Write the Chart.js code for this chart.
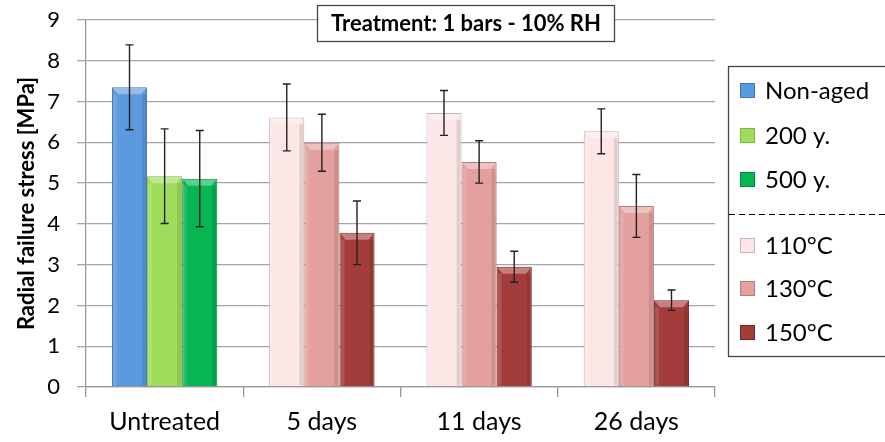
<!DOCTYPE html>
<html>
<head>
<meta charset="utf-8">
<script src="https://cdn.jsdelivr.net/npm/chart.js@4.4.0/dist/chart.umd.min.js"></script>
<style>
  html, body { margin: 0; padding: 0; background: #fff; }
</style>
</head>
<body>
<canvas id="c" width="885" height="442"></canvas>
<script>
// data
const categories = ['Untreated', '5 days', '11 days', '26 days'];
const seriesNames = ['Non-aged', '200 y.', '500 y.', '110°C', '130°C', '150°C'];
const nonAged = [7.35, null, null, null];
const aged200 = [5.17, null, null, null];
const aged500 = [5.11, null, null, null];
const t110 = [null, 6.61, 6.72, 6.27];
const t130 = [null, 5.99, 5.52, 4.44];
const t150 = [null, 3.78, 2.95, 2.13];
const nonAgedErr = [1.04, null, null, null];
const aged200Err = [1.16, null, null, null];
const aged500Err = [1.18, null, null, null];
const t110Err = [null, 0.82, 0.55, 0.55];
const t130Err = [null, 0.70, 0.52, 0.77];
const t150Err = [null, 0.78, 0.38, 0.25];
const yTicks = [0, 1, 2, 3, 4, 5, 6, 7, 8, 9];
const titleText = 'Treatment: 1 bars - 10% RH';

const fills = ['#5b9ade', '#a0dc5c', '#05b652', '#fde6e6', '#e3a09e', '#a33d3b'];
const edges = ['#3f76b8', '#7fb640', '#038a3d', '#c9b4b4', '#b87a78', '#7a2624'];

const values = [nonAged, aged200, aged500, t110, t130, t150];
const errors = [nonAgedErr, aged200Err, aged500Err, t110Err, t130Err, t150Err];

Chart.defaults.font.family = 'Lato, "Open Sans", sans-serif';
Chart.defaults.color = '#000';

// bevel look + error bars on top of the bars
const barExtras = {
  id: 'barExtras',
  afterDatasetsDraw(chart) {
    const ctx = chart.ctx;
    const y = chart.scales.y;
    chart.data.datasets.forEach((ds, i) => {
      const meta = chart.getDatasetMeta(i);
      meta.data.forEach((bar, j) => {
        if (ds.data[j] == null) return;
        const p = bar.getProps(['x', 'y', 'base', 'width'], true);
        const l = p.x - p.width / 2, r = p.x + p.width / 2;
        ctx.save();
        ctx.fillStyle = 'rgba(255,255,255,0.35)';
        ctx.beginPath();
        ctx.moveTo(l + 1, p.y + 1);
        ctx.lineTo(r - 1, p.y + 1);
        ctx.lineTo(r - 6, p.y + 7);
        ctx.lineTo(l + 6, p.y + 7);
        ctx.closePath();
        ctx.fill();
        ctx.fillStyle = 'rgba(0,0,0,0.10)';
        ctx.fillRect(r - 5, p.y + 7, 4, p.base - p.y - 8);
        ctx.fillStyle = 'rgba(255,255,255,0.12)';
        ctx.fillRect(l + 1, p.y + 7, 4, p.base - p.y - 8);
        ctx.restore();
      });
    });
    ctx.save();
    ctx.strokeStyle = '#222';
    ctx.lineWidth = 1.4;
    chart.data.datasets.forEach((ds, i) => {
      const meta = chart.getDatasetMeta(i);
      meta.data.forEach((bar, j) => {
        const v = ds.data[j], e = ds.errors[j];
        if (v == null || e == null) return;
        const x = bar.x;
        const top = y.getPixelForValue(v + e);
        const bot = y.getPixelForValue(v - e);
        ctx.beginPath();
        ctx.moveTo(x, top); ctx.lineTo(x, bot);
        ctx.moveTo(x - 4, top); ctx.lineTo(x + 4, top);
        ctx.moveTo(x - 4, bot); ctx.lineTo(x + 4, bot);
        ctx.stroke();
      });
    });
    ctx.restore();
  }
};

// boxed title and the split legend on the right
const boxes = {
  id: 'boxes',
  afterDraw(chart) {
    const ctx = chart.ctx;
    ctx.save();
    // title box
    ctx.fillStyle = '#fff';
    ctx.fillRect(317, 5, 298, 37);
    ctx.strokeStyle = '#444';
    ctx.lineWidth = 1.3;
    ctx.strokeRect(317.5, 5.5, 297, 36);
    ctx.fillStyle = '#000';
    ctx.font = 'bold 22px Lato, "Open Sans", sans-serif';
    ctx.textAlign = 'center';
    ctx.textBaseline = 'middle';
    ctx.fillText(titleText, 466, 24);

    // legend box
    ctx.strokeStyle = '#444';
    ctx.strokeRect(728.5, 66.5, 170, 290);
    const rows = [90, 135, 179, 245, 288, 332];
    ctx.font = '24px Lato, "Open Sans", sans-serif';
    ctx.textAlign = 'left';
    chart.data.datasets.forEach((ds, i) => {
      const yy = rows[i];
      ctx.fillStyle = fills[i];
      ctx.fillRect(740, yy - 7, 15, 15);
      ctx.strokeStyle = edges[i];
      ctx.lineWidth = 1;
      ctx.strokeRect(740.5, yy - 6.5, 14, 14);
      ctx.fillStyle = '#000';
      ctx.fillText(ds.label, 765, yy + 1);
    });
    ctx.strokeStyle = '#000';
    ctx.lineWidth = 1;
    ctx.setLineDash([6, 4]);
    ctx.beginPath();
    ctx.moveTo(729, 214.5);
    ctx.lineTo(885, 214.5);
    ctx.stroke();
    ctx.restore();
  }
};

new Chart(document.getElementById('c').getContext('2d'), {
  type: 'bar',
  data: {
    labels: categories,
    datasets: seriesNames.map((name, i) => ({
      label: name,
      data: values[i],
      errors: errors[i],
      backgroundColor: fills[i],
      borderColor: edges[i],
      borderWidth: 1,
      barPercentage: 1,
      categoryPercentage: 0.67,
      skipNull: true
    }))
  },
  options: {
    responsive: false,
    animation: false,
    devicePixelRatio: 1,
    layout: { padding: { top: 20, right: 170, left: 0, bottom: 0 } },
    plugins: {
      legend: { display: false },
      tooltip: { enabled: false }
    },
    scales: {
      x: {
        grid: { offset: true, drawOnChartArea: false, tickLength: 10, color: '#999', lineWidth: 1.3 },
        border: { color: '#999', width: 1.3 },
        ticks: { font: { size: 25 }, padding: 10 },
        afterFit: s => { s.height = 55; s.paddingLeft = 0; s.paddingRight = 0; }
      },
      y: {
        min: 0,
        max: 9,
        afterBuildTicks: s => { s.ticks = yTicks.map(v => ({ value: v })); },
        grid: { color: '#a6a6a6', lineWidth: 1.3, tickLength: 9 },
        border: { color: '#999', width: 1.3 },
        ticks: { font: { size: 22 }, padding: 17 },
        title: {
          display: true,
          text: 'Radial failure stress [MPa]',
          font: { size: 22, weight: 'bold' },
          padding: { top: 14, bottom: 0 }
        },
        afterFit: s => { s.width = 86; s.paddingTop = 0; s.paddingBottom = 0; }
      }
    }
  },
  plugins: [barExtras, boxes]
});
</script>
</body>
</html>
